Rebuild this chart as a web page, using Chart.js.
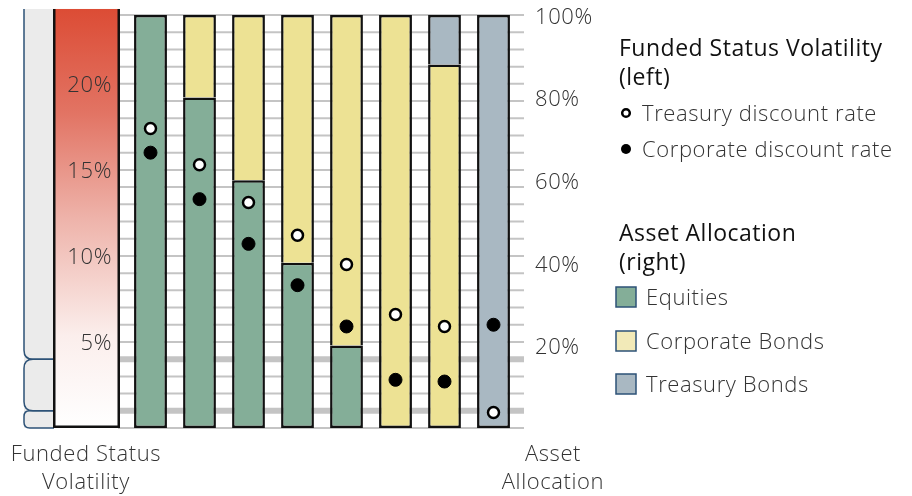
<!DOCTYPE html>
<html>
<head>
<meta charset="utf-8">
<script src="https://cdn.jsdelivr.net/npm/chart.js@4"></script>
<style>
html, body { margin: 0; padding: 0; background: #fff; }
#wrap { position: relative; width: 912px; height: 496px; }
</style>
</head>
<body>
<div id="wrap"><canvas id="chart"></canvas></div>
<script>
"use strict"

//Data
const portfolios = ["1", "2", "3", "4", "5", "6", "7", "8"];
const equities = [100, 80, 60, 40, 20, 0, 0, 0];
const corporateBonds = [0, 20, 40, 60, 80, 100, 88, 0];
const treasuryBonds = [0, 0, 0, 0, 0, 0, 12, 100];
const treasuryRateVol = [17.4, 15.3, 13.1, 11.2, 9.5, 6.6, 5.9, 0.9];
const corporateRateVol = [16.0, 13.3, 10.7, 8.3, 5.9, 2.8, 2.7, 6.0];
const volTicks = [5, 10, 15, 20];
const allocTicks = [20, 40, 60, 80, 100];
const volBands = [0, 1, 4, 24.35];
const volTitle = ["Funded Status", "Volatility"];
const allocTitle = ["Asset", "Allocation"];
const volLegendTitle = ["Funded Status Volatility", "(left)"];
const allocLegendTitle = ["Asset Allocation", "(right)"];

//Styles
const lightFont = "300 22px 'Open Sans'";
const titleFont = "400 23px 'Open Sans'";
const lightSpacing = "0.6px";
const titleSpacing = "0.5px";
const textColor = "#333";
const gridColor = "#c4c4c4";
const braceColor = "#2d5277";
const nudge = 1.5; //Open Sans sits a little high on "middle"

const allocSeries = [
  { label: "Equities", data: equities, color: "#84ae98", legendColor: "#84ae98" },
  { label: "Corporate Bonds", data: corporateBonds, color: "#ede294", legendColor: "#f2eab8" },
  { label: "Treasury Bonds", data: treasuryBonds, color: "#a9b8c2", legendColor: "#a9b8c2" }
];

//Only the lowest segment of a bar gets a bottom border
function segmentBorder(ctx) {
  const i = ctx.dataIndex;
  let below = 0;
  for (let k = 0; k < ctx.datasetIndex; k++) below += allocSeries[k].data[i];
  const w = 2.5;
  return { top: w, left: w, right: w, bottom: below === 0 ? w : 0 };
}

const datasets = [];
for (let s = 0; s < allocSeries.length; s++) {
  datasets.push({
    type: "bar",
    label: allocSeries[s].label,
    data: allocSeries[s].data.map(v => v === 0 ? null : v),
    backgroundColor: allocSeries[s].color,
    borderColor: "#111",
    borderWidth: segmentBorder,
    borderSkipped: false,
    barPercentage: 0.67,
    categoryPercentage: 1,
    yAxisID: "y",
    order: 2
  });
}
datasets.push({
  type: "line",
  label: "Treasury discount rate",
  data: treasuryRateVol,
  yAxisID: "y1",
  showLine: false,
  pointRadius: 5.5,
  pointBorderWidth: 2.5,
  pointBackgroundColor: "#fff",
  pointBorderColor: "#000",
  clip: false,
  order: 0
});
datasets.push({
  type: "line",
  label: "Corporate discount rate",
  data: corporateRateVol,
  yAxisID: "y1",
  showLine: false,
  pointRadius: 6.5,
  pointBorderWidth: 1,
  pointBackgroundColor: "#000",
  pointBorderColor: "#000",
  clip: false,
  order: 1
});

//Gridlines, left brackets and the colour bar
const backdrop = {
  id: "backdrop",
  beforeDatasetsDraw(chart) {
    const ctx = chart.ctx;
    const y1 = chart.scales.y1;
    const area = chart.chartArea;
    ctx.save();

    //gridlines every 1% of volatility
    for (let v = 0; v <= 24; v++) {
      const y = y1.getPixelForValue(v);
      ctx.strokeStyle = gridColor;
      ctx.lineWidth = (v === volBands[1] || v === volBands[2]) ? 6 : 2;
      ctx.beginPath();
      ctx.moveTo(area.left - 8, y);
      ctx.lineTo(area.right + 6, y);
      ctx.stroke();
    }

    //grey strip with brackets
    const top = y1.getPixelForValue(volBands[volBands.length - 1]);
    const bottom = y1.getPixelForValue(0);
    const bx = 24, ex = 54;
    ctx.fillStyle = "#ebebeb";
    ctx.fillRect(bx, top, ex - bx, bottom - top);
    ctx.strokeStyle = braceColor;
    ctx.lineWidth = 1.5;
    for (let b = 0; b < volBands.length - 1; b++) {
      const yb = y1.getPixelForValue(volBands[b]);
      const yt = y1.getPixelForValue(volBands[b + 1]);
      const r = Math.min(9, (yb - yt) / 3);
      ctx.beginPath();
      if (b === volBands.length - 2) {
        ctx.moveTo(bx, yt);
      } else {
        ctx.moveTo(ex, yt);
        ctx.lineTo(bx + r, yt);
        ctx.quadraticCurveTo(bx, yt, bx, yt + r);
      }
      ctx.lineTo(bx, yb - r);
      ctx.quadraticCurveTo(bx, yb, bx + r, yb);
      ctx.lineTo(ex, yb);
      ctx.stroke();
    }

    //colour bar
    const gx0 = 53, gx1 = 120;
    const grad = ctx.createLinearGradient(0, top, 0, bottom);
    grad.addColorStop(0, "#dc4c35");
    grad.addColorStop(0.25, "#e27464");
    grad.addColorStop(0.5, "#eeb3aa");
    grad.addColorStop(0.78, "#fbeeec");
    grad.addColorStop(1, "#ffffff");
    ctx.fillStyle = grad;
    ctx.fillRect(gx0, top, gx1 - gx0, bottom - top);
    ctx.strokeStyle = "#111";
    ctx.lineWidth = 2.5;
    ctx.beginPath();
    ctx.moveTo(gx0 + 1.25, top);
    ctx.lineTo(gx0 + 1.25, bottom - 1.25);
    ctx.lineTo(gx1 - 1.25, bottom - 1.25);
    ctx.lineTo(gx1 - 1.25, top);
    ctx.stroke();

    //left tick labels
    ctx.font = lightFont;
    ctx.letterSpacing = lightSpacing;
    ctx.fillStyle = textColor;
    ctx.textAlign = "right";
    ctx.textBaseline = "middle";
    for (const v of volTicks) {
      ctx.fillText(v + "%", 112, y1.getPixelForValue(v) + nudge);
    }
    ctx.restore();
  }
};

//Right axis labels, axis titles and legend
const labels = {
  id: "labels",
  afterDraw(chart) {
    const ctx = chart.ctx;
    const yScale = chart.scales.y;
    ctx.save();
    ctx.font = lightFont;
    ctx.letterSpacing = lightSpacing;
    ctx.fillStyle = textColor;
    ctx.textBaseline = "middle";
    ctx.textAlign = "left";
    for (const v of allocTicks) {
      ctx.fillText(v + "%", 535, yScale.getPixelForValue(v) + 1 + nudge);
    }

    ctx.textAlign = "center";
    ctx.fillText(volTitle[0], 86, 453 + nudge);
    ctx.fillText(volTitle[1], 86, 481 + nudge);
    ctx.fillText(allocTitle[0], 553, 453 + nudge);
    ctx.fillText(allocTitle[1], 553, 481 + nudge);

    //legend
    ctx.textAlign = "left";
    ctx.font = titleFont;
    ctx.letterSpacing = titleSpacing;
    ctx.fillStyle = "#111";
    ctx.fillText(volLegendTitle[0], 619, 48 + nudge);
    ctx.fillText(volLegendTitle[1], 619, 77 + nudge);
    ctx.fillText(allocLegendTitle[0], 619, 233 + nudge);
    ctx.fillText(allocLegendTitle[1], 619, 262 + nudge);

    ctx.font = lightFont;
    ctx.letterSpacing = lightSpacing;
    ctx.fillStyle = textColor;
    const pointSets = chart.data.datasets.filter(d => d.type === "line");
    const pointRows = [113, 149];
    pointSets.forEach((d, i) => {
      const y = pointRows[i];
      ctx.beginPath();
      ctx.arc(626, y, d.pointBackgroundColor === "#fff" ? 3.8 : 5, 0, Math.PI * 2);
      ctx.fillStyle = d.pointBackgroundColor;
      ctx.fill();
      if (d.pointBackgroundColor === "#fff") {
        ctx.lineWidth = 2.5;
        ctx.strokeStyle = "#000";
        ctx.stroke();
      }
      ctx.fillStyle = textColor;
      ctx.fillText(d.label, 642, y + nudge);
    });

    const boxRows = [297, 341, 384];
    allocSeries.forEach((s, i) => {
      const y = boxRows[i];
      ctx.fillStyle = s.legendColor;
      ctx.fillRect(616, y - 10, 20, 20);
      ctx.strokeStyle = braceColor;
      ctx.lineWidth = 1.5;
      ctx.strokeRect(616, y - 10, 20, 20);
      ctx.fillStyle = textColor;
      ctx.fillText(s.label, 646, y + nudge);
    });
    ctx.restore();
  }
};

const config = {
  type: "bar",
  data: { labels: portfolios, datasets: datasets },
  options: {
    responsive: true,
    maintainAspectRatio: false,
    animation: false,
    layout: { padding: { left: 126, right: 394, top: 15, bottom: 68 } },
    plugins: { legend: { display: false }, tooltip: { enabled: false } },
    scales: {
      x: { display: false, stacked: true },
      y: { display: false, stacked: true, min: 0, max: 100 },
      y1: { display: false, min: 0, max: 24 }
    }
  },
  plugins: [backdrop, labels]
};

const myChart = new Chart(document.getElementById("chart"), config);
</script>
</body>
</html>
